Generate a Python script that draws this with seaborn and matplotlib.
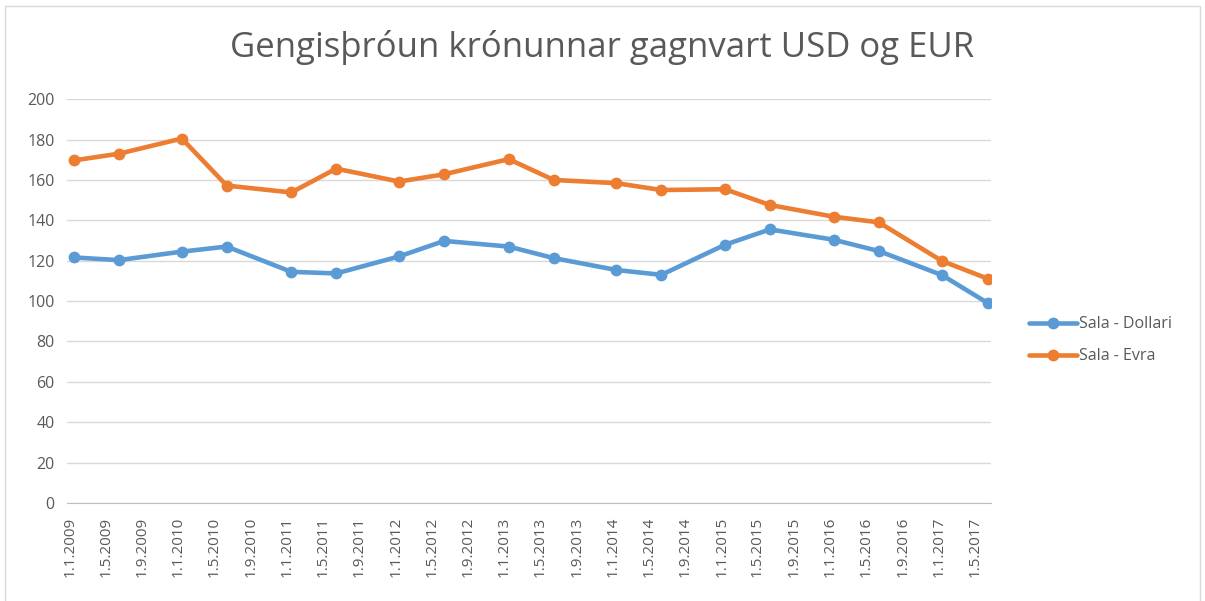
import matplotlib
matplotlib.use("Agg")
import matplotlib.pyplot as plt
import matplotlib.dates as mdates
from matplotlib.patches import Rectangle
from matplotlib.lines import Line2D
import pandas as pd
import seaborn as sns

# data (two readings per year)
dates = ["2009-01-15", "2009-06-15", "2010-01-12", "2010-06-12", "2011-01-15", "2011-06-15",
         "2012-01-12", "2012-06-12", "2013-01-15", "2013-06-15", "2014-01-12", "2014-06-12",
         "2015-01-12", "2015-06-12", "2016-01-12", "2016-06-12", "2017-01-10", "2017-06-15"]
dollari = [121.6, 120.3, 124.5, 127.0, 114.5, 113.7, 122.1, 129.8, 127.0, 121.3, 115.4, 113.0,
           127.9, 135.5, 130.4, 124.8, 112.9, 98.9]
evra = [169.7, 173.0, 180.5, 157.2, 153.8, 165.6, 159.2, 162.8, 170.3, 160.0, 158.4, 155.0,
        155.4, 147.6, 141.8, 139.0, 119.9, 111.0]
series = ["Sala - Dollari", "Sala - Evra"]
colors = ["#5B9BD5", "#ED7D31"]
title = "Gengisþróun krónunnar gagnvart USD og EUR"

df = pd.DataFrame({
    "dags": pd.to_datetime(dates * 2),
    "gengi": dollari + evra,
    "röð": [series[0]] * len(dates) + [series[1]] * len(dates),
})

sns.set_style("white")
plt.rcParams["font.family"] = ["Open Sans", "DejaVu Sans"]
grey = "#595959"

fig = plt.figure(figsize=(12.05, 6.01), dpi=100)
ax = fig.add_axes([0.0556, 0.163, 0.767, 0.672])

sns.lineplot(data=df, x="dags", y="gengi", hue="röð", palette=colors, ax=ax,
             marker="o", markersize=8.5, markeredgewidth=0, linewidth=3.3, legend=False)

ax.set_ylim(0, 200)
ax.set_yticks(range(0, 201, 20))
ax.set_xlim(pd.Timestamp("2008-12-22"), pd.Timestamp("2017-06-25"))
ax.xaxis.set_major_locator(mdates.MonthLocator(bymonth=[1, 5, 9]))
ax.xaxis.set_major_formatter(plt.FuncFormatter(
    lambda v, p: (lambda d: f"{d.day}.{d.month}.{d.year}")(mdates.num2date(v))))
ax.grid(axis="y", color="#d9d9d9", linewidth=1)
ax.set_axisbelow(True)
for s in ["left", "right", "top"]:
    ax.spines[s].set_visible(False)
ax.spines["bottom"].set_color("#bfbfbf")
ax.tick_params(axis="x", rotation=90, labelsize=11, labelcolor=grey, colors="#bfbfbf",
               length=5, direction="out", pad=5)
ax.tick_params(axis="y", labelsize=11.5, labelcolor=grey, length=0, pad=9)
for lbl in ax.get_xticklabels() + ax.get_yticklabels():
    lbl.set_color(grey)
ax.set_xlabel("")
ax.set_ylabel("")

fig.text(0.5, 0.921, title, ha="center", va="center", fontsize=25, color=grey)

handles = [Line2D([], [], color=c, linewidth=3.3, marker="o", markersize=8.5, markeredgewidth=0)
           for c in colors]
fig.legend(handles, series, loc="center left", bbox_to_anchor=(0.842, 0.434), frameon=False,
           fontsize=11.5, labelcolor=grey, handlelength=3, handletextpad=0.15, labelspacing=1.0)

fig.patches.append(Rectangle((0.004, -0.01), 0.992, 1.0, transform=fig.transFigure,
                             fill=False, edgecolor="#d9d9d9", linewidth=1))

fig.savefig("out.png", dpi=100)
